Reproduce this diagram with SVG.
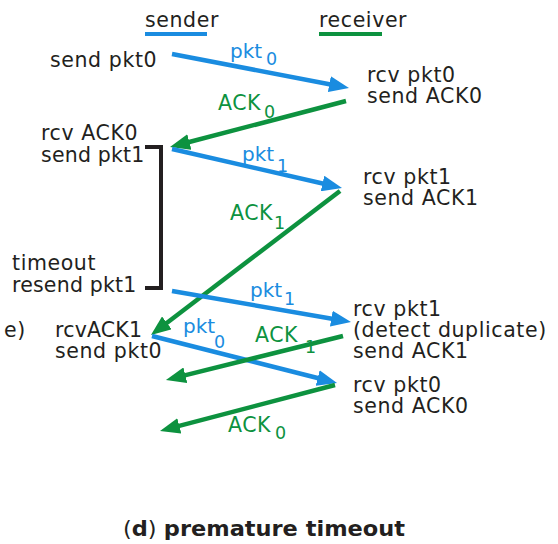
<svg xmlns="http://www.w3.org/2000/svg" width="558" height="544" viewBox="0 0 558 544">
  <style>
    .lbl { font-family: "DejaVu Sans", "Liberation Sans", sans-serif; font-size: 20.5px; letter-spacing: 0.6px; fill: #231f20; }
    .tight { letter-spacing: 0.2px; }
    .pkt { font-family: "DejaVu Sans", "Liberation Sans", sans-serif; font-size: 20px; fill: #1a8ce0; }
    .ack { font-family: "DejaVu Sans", "Liberation Sans", sans-serif; font-size: 20.5px; letter-spacing: 0.5px; fill: #0d923f; }
    .sub { font-size: 17.5px; }
    .blue { stroke: #1a8ce0; stroke-width: 4.5; fill: none; }
    .green { stroke: #0d923f; stroke-width: 4.5; fill: none; }
    .title { font-family: "DejaVu Sans", "Liberation Sans", sans-serif; font-size: 21px; fill: #231f20; }
  </style>
  <defs>
    <marker id="headBlue" markerUnits="userSpaceOnUse" viewBox="0 0 20 16" refX="8" refY="8" markerWidth="20" markerHeight="16" orient="auto">
      <path d="M0,0 L20,8 L0,16 z" fill="#1a8ce0"/>
    </marker>
    <marker id="headGreen" markerUnits="userSpaceOnUse" viewBox="0 0 20 16" refX="8" refY="8" markerWidth="20" markerHeight="16" orient="auto">
      <path d="M0,0 L20,8 L0,16 z" fill="#0d923f"/>
    </marker>
  </defs>
  <rect width="558" height="544" fill="#ffffff"/>

  <!-- legend -->
  <g id="legend">
    <text class="lbl" x="145" y="27">sender</text>
    <line x1="145" y1="34" x2="207" y2="34" stroke="#1a8ce0" stroke-width="4"/>
    <text class="lbl" x="319" y="27">receiver</text>
    <line x1="319" y1="34" x2="382" y2="34" stroke="#0d923f" stroke-width="4"/>
  </g>

  <!-- sender side events -->
  <g id="s-send-pkt0"><text class="lbl" x="50" y="67">send pkt0</text></g>
  <g id="s-rcv-ack0">
    <text class="lbl" x="41" y="140">rcv ACK0</text>
    <text class="lbl tight" x="41" y="162">send pkt1</text>
  </g>
  <g id="s-timeout">
    <text class="lbl" x="12" y="270">timeout</text>
    <text class="lbl tight" x="12" y="292">resend pkt1</text>
  </g>
  <g id="s-edge"><text class="lbl" x="4" y="337">e)</text></g>
  <g id="s-rcv-ack1">
    <text class="lbl tight" x="55" y="337">rcvACK1</text>
    <text class="lbl" x="55" y="358">send pkt0</text>
  </g>

  <!-- timer bracket -->
  <g id="timer">
    <path d="M145,147 H161 V288 H145" fill="none" stroke="#231f20" stroke-width="4"/>
  </g>

  <!-- receiver side events -->
  <g id="r-rcv-pkt0">
    <text class="lbl" x="367" y="82">rcv pkt0</text>
    <text class="lbl" x="367" y="103">send ACK0</text>
  </g>
  <g id="r-rcv-pkt1">
    <text class="lbl" x="363" y="184">rcv pkt1</text>
    <text class="lbl" x="363" y="205">send ACK1</text>
  </g>
  <g id="r-dup-pkt1">
    <text class="lbl" x="353" y="316">rcv pkt1</text>
    <text class="lbl" x="353" y="337">(detect duplicate)</text>
    <text class="lbl" x="353" y="358">send ACK1</text>
  </g>
  <g id="r-rcv-pkt0-2">
    <text class="lbl" x="353" y="392">rcv pkt0</text>
    <text class="lbl" x="353" y="413">send ACK0</text>
  </g>

  <!-- message connectors -->
  <g id="connectors">
    <line class="blue" x1="172" y1="54" x2="337.2" y2="85.7" marker-end="url(#headBlue)"/>
    <line class="green" x1="346" y1="101" x2="181.6" y2="144" marker-end="url(#headGreen)"/>
    <line class="blue" x1="172" y1="149" x2="330.3" y2="185.3" marker-end="url(#headBlue)"/>
    <line class="green" x1="340" y1="191" x2="160.5" y2="327.7" marker-end="url(#headGreen)"/>
    <line class="blue" x1="172" y1="291" x2="339.2" y2="320" marker-end="url(#headBlue)"/>
    <line class="blue" x1="152" y1="336" x2="325.4" y2="380" marker-end="url(#headBlue)"/>
    <line class="green" x1="343" y1="336" x2="177.6" y2="377.1" marker-end="url(#headGreen)"/>
    <line class="green" x1="335" y1="385" x2="171.6" y2="427.9" marker-end="url(#headGreen)"/>

    <!-- connector labels -->
    <text class="pkt" x="230" y="58">pkt<tspan class="sub" x="266" y="65">0</tspan></text>
    <text class="ack" x="218" y="110">ACK<tspan class="sub" x="264" y="118">0</tspan></text>
    <text class="pkt" x="242" y="161">pkt<tspan class="sub" x="277" y="172">1</tspan></text>
    <text class="ack" x="230" y="220">ACK<tspan class="sub" x="274" y="229">1</tspan></text>
    <text class="pkt" x="250" y="297">pkt<tspan class="sub" x="284" y="305">1</tspan></text>
    <text class="pkt" x="183" y="333">pkt<tspan class="sub" x="214" y="348">0</tspan></text>
    <text class="ack" x="255" y="342">ACK<tspan class="sub" x="305" y="353">1</tspan></text>
    <text class="ack" x="228" y="432">ACK<tspan class="sub" x="275" y="439">0</tspan></text>
  </g>

  <!-- caption -->
  <g id="caption">
    <text class="title" x="123" y="536" textLength="282" lengthAdjust="spacingAndGlyphs">(<tspan font-weight="bold">d</tspan>) <tspan font-weight="bold">premature timeout</tspan></text>
  </g>
</svg>
